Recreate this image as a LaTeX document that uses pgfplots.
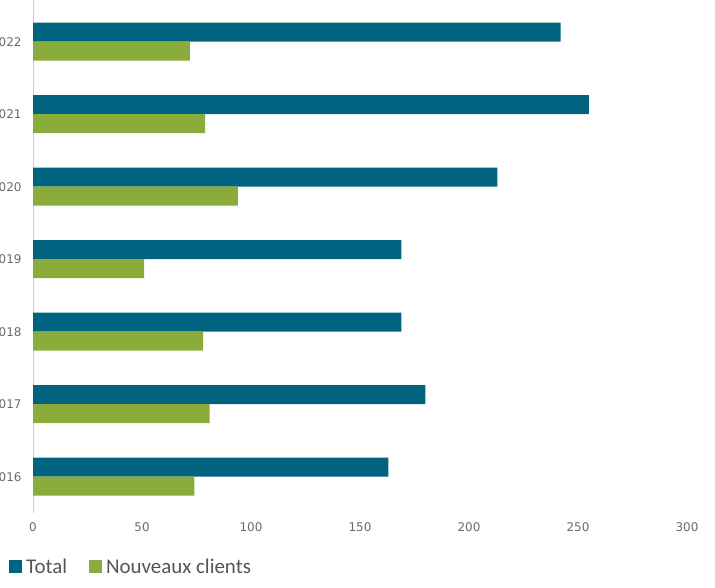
\documentclass[border=0pt]{standalone}
\usepackage{fontspec}
\setmainfont{Carlito}
\newfontfamily\tickfont{DejaVu Sans}
\usepackage{pgfplots}
\pgfplotsset{compat=1.18}
\definecolor{cTotal}{HTML}{00637F}
\definecolor{cNew}{HTML}{8AAC3B}
\definecolor{tickgray}{HTML}{6A6A6A}
\definecolor{axgray}{HTML}{D0D0D0}
\begin{document}
\begin{tikzpicture}[x=1bp,y=1bp]
\clip (0,0) rectangle (715,588);
\begin{axis}[
  at={(33bp,75bp)}, anchor=south west,
  scale only axis, width=654bp, height=514.75bp,
  xbar, bar width=19bp,
  xmin=0, xmax=300, ymin=-0.5, ymax=6.6,
  ytick={0,1,2,3,4,5,6},
  yticklabels={2016,2017,2018,2019,2020,2021,2022},
  xtick={0,50,100,150,200,250,300},
  /pgf/number format/assume math mode=true,
  axis y line*=left, axis x line*=bottom,
  x axis line style={draw=none},
  y axis line style={draw=axgray, line width=0.8bp},
  major tick length=0pt, tick style={draw=none},
  ticklabel style={font=\tickfont\fontsize{12}{14}\selectfont, text=tickgray},
  xticklabel style={yshift=-6bp},
  yticklabel style={xshift=-8bp},
  legend columns=2,
  legend style={draw=none, fill=none, at={(0,0)}, anchor=west, xshift=-24bp, yshift=-54bp,
    inner sep=0pt, font=\fontsize{21}{25}\selectfont, text=tickgray!80!black,
    nodes={inner xsep=4bp},
    /tikz/every even column/.append style={column sep=18bp}},
  legend image code/.code={\fill[#1] (0bp,-6.5bp) rectangle (13bp,6.5bp);},
]
\addplot[fill=cTotal, draw=none, bar shift=9.5bp] coordinates {
(163,0) (180,1) (169,2) (169,3) (213,4) (255,5) (242,6)};
\addlegendentry{Total}
\addplot[fill=cNew, draw=none, bar shift=-9.5bp] coordinates {
(74,0) (81,1) (78,2) (51,3) (94,4) (79,5) (72,6)};
\addlegendentry{Nouveaux clients}
\end{axis}
\end{tikzpicture}
\end{document}
